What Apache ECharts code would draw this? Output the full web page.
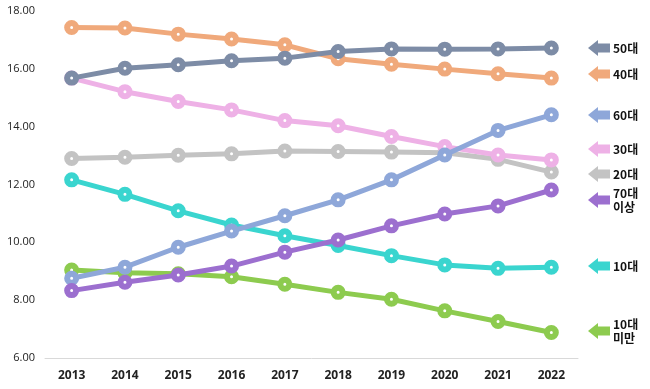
<!DOCTYPE html>
<html><head><meta charset="utf-8">
<script src="https://cdn.jsdelivr.net/npm/echarts@6/dist/echarts.min.js"></script>
<style>html,body{margin:0;padding:0;background:#fff}#c{width:650px;height:389px}</style>
</head><body><div id="c"></div>
<script>
const years = ['2013','2014','2015','2016','2017','2018','2019','2020','2021','2022'];
const s10under = [9.04, 8.95, 8.91, 8.81, 8.55, 8.27, 8.03, 7.63, 7.26, 6.88];
const s20 = [12.90, 12.94, 13.01, 13.06, 13.16, 13.14, 13.12, 13.10, 12.87, 12.43];
const s10 = [12.16, 11.66, 11.09, 10.60, 10.23, 9.89, 9.54, 9.22, 9.10, 9.14];
const s30 = [15.68, 15.21, 14.87, 14.58, 14.21, 14.03, 13.66, 13.31, 13.02, 12.85];
const s40 = [17.43, 17.41, 17.20, 17.03, 16.83, 16.35, 16.16, 15.99, 15.83, 15.68];
const s60 = [8.76, 9.14, 9.83, 10.39, 10.92, 11.47, 12.16, 13.02, 13.87, 14.41];
const s70 = [8.33, 8.62, 8.87, 9.18, 9.66, 10.08, 10.57, 10.98, 11.26, 11.81];
const s50 = [15.68, 16.02, 16.14, 16.28, 16.37, 16.60, 16.69, 16.68, 16.69, 16.72];

const seriesDefs = [
  {name:'10대 미만', data:s10under, color:'#8dcb4f'},
  {name:'20대', data:s20, color:'#c3c3c3'},
  {name:'10대', data:s10, color:'#3ad5cf'},
  {name:'30대', data:s30, color:'#eeb1e6'},
  {name:'40대', data:s40, color:'#f0a97b'},
  {name:'60대', data:s60, color:'#8ea7d9'},
  {name:'70대 이상', data:s70, color:'#9c6fcf'},
  {name:'50대', data:s50, color:'#7d8ca6'}
];

// right-side arrow labels: [label lines, color, center y]
const tags = [
  ['50대','#7d8ca6',48],
  ['40대','#f0a97b',74],
  ['60대','#8ea7d9',115],
  ['30대','#eeb1e6',149],
  ['20대','#c3c3c3',174],
  ['70대\n이상','#9c6fcf',200],
  ['10대','#3ad5cf',266],
  ['10대\n미만','#8dcb4f',331]
];
const graphics = [];
tags.forEach(t => {
  const y = t[2];
  graphics.push({type:'polygon', shape:{points:[[588,y],[598,y-8],[598,y-4.5],[610,y-4.5],[610,y+4.5],[598,y+4.5],[598,y+8]]}, style:{fill:t[1]}});
  graphics.push({type:'text', x:613, y:y, style:{text:t[0], fill:'#111', font:'bold 12px "Noto Sans CJK KR", "Noto Sans"', verticalAlign:'middle', lineHeight:14}});
});

const chart = echarts.init(document.getElementById('c'));
chart.setOption({
  animation:false,
  grid:{left:45, right:72, top:11, bottom:31},
  xAxis:{type:'category', data:years, boundaryGap:true,
    axisLine:{lineStyle:{color:'#d9d9d9', width:1}}, axisTick:{show:false},
    axisLabel:{color:'#222', fontSize:12, fontWeight:'bold', margin:12, fontFamily:'"Open Sans", "Noto Sans"'}},
  yAxis:{type:'value', min:6, max:18, interval:2,
    axisLine:{show:false}, axisTick:{show:false}, splitLine:{show:false},
    axisLabel:{color:'#222', fontSize:11, margin:10, fontFamily:'"Open Sans", "Noto Sans"',
      formatter:v => v.toFixed(2)}},
  series: seriesDefs.map((d,i) => ({
    name:d.name, type:'line', data:d.data, z:2+i,
    symbol:'circle', symbolSize:9,
    lineStyle:{color:d.color, width:5},
    itemStyle:{color:'#fff', borderColor:d.color, borderWidth:6}
  })),
  graphic: graphics
});
</script></body></html>
